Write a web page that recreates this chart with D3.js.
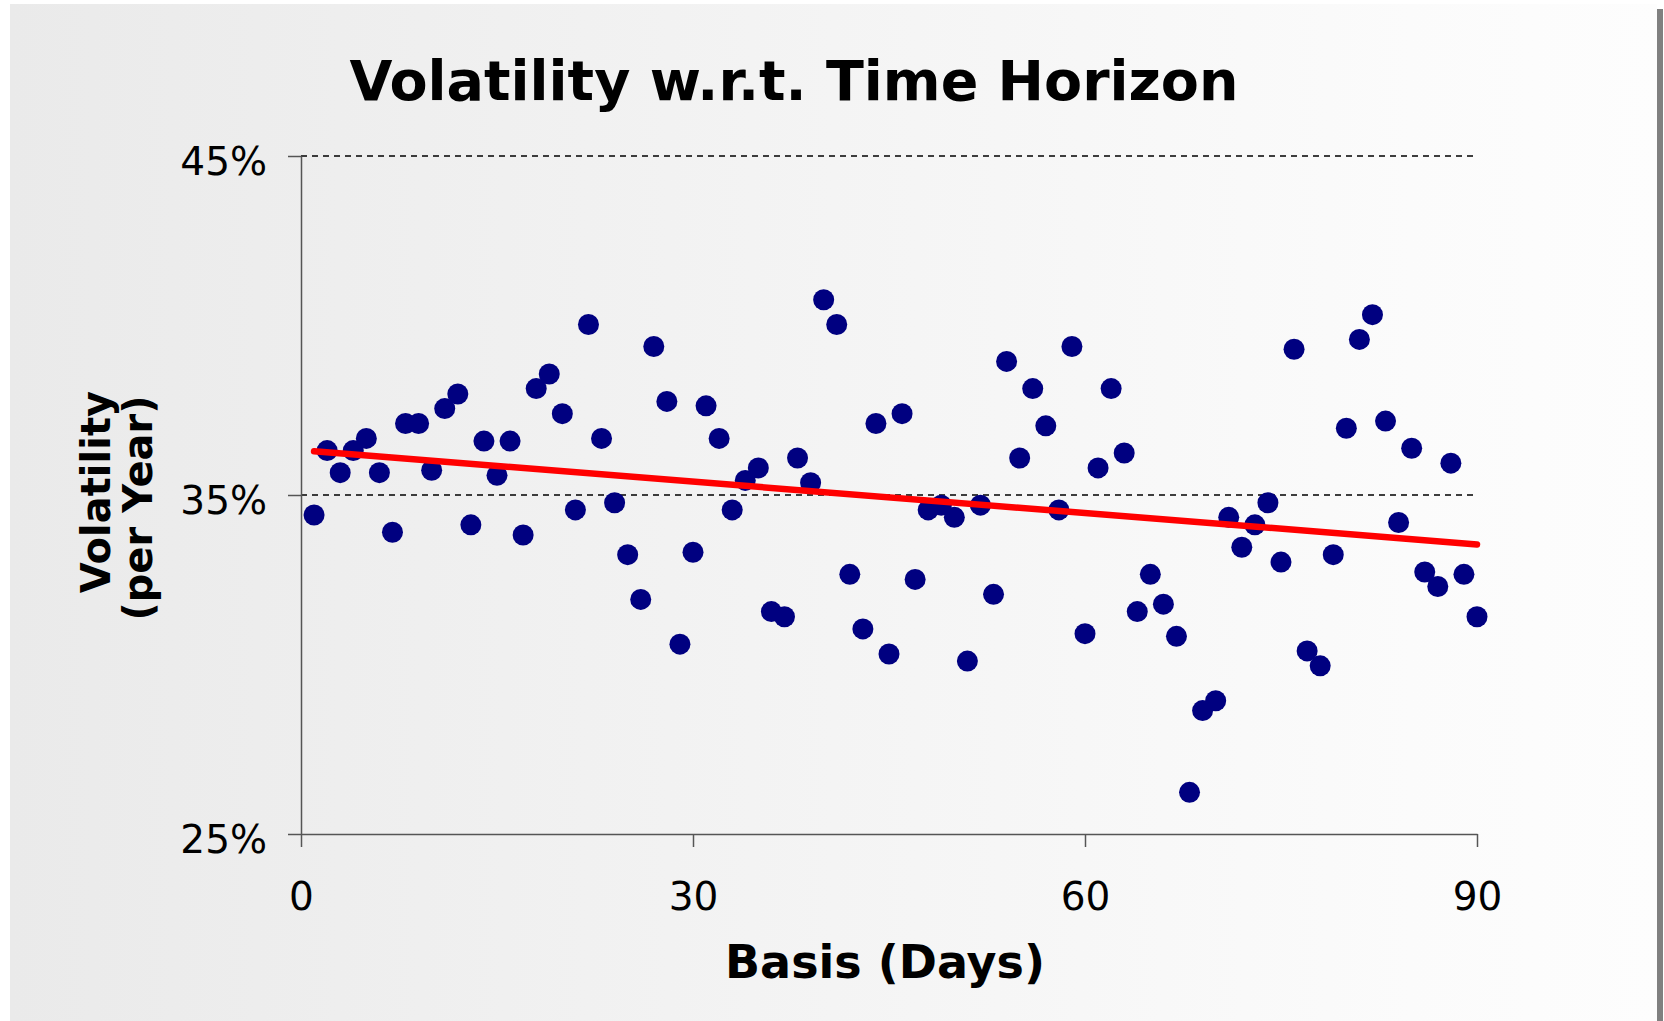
<!DOCTYPE html>
<html>
<head>
<meta charset="utf-8">
<script src="https://cdn.jsdelivr.net/npm/d3@7"></script>
<style>
  body { margin: 0; background: #fff; }
  svg { display: block; }
  .axis path, .axis line { stroke: #555; stroke-width: 1.5px; }
  .axis text { font-family: "DejaVu Sans", Verdana, sans-serif; font-size: 39px; fill: #000; }
  .title { font-family: "DejaVu Sans", Verdana, sans-serif; font-weight: bold; fill: #000; }
</style>
</head>
<body>
<div id="chart"></div>
<script>
// basis in days and the volatility read for each day
var days = d3.range(1, 91);
var vols = [
  34.41, 36.31, 35.66, 36.31, 36.67, 35.66, 33.90, 37.11, 37.11, 35.73,
  37.55, 37.98, 34.12, 36.59, 35.58, 36.59, 33.82, 38.14, 38.57, 37.40,
  34.56, 40.03, 36.67, 34.77, 33.24, 31.92, 39.38, 37.76, 30.60, 33.31,
  37.63, 36.67, 34.56, 35.43, 35.80, 31.56, 31.41, 36.09, 35.36, 40.76,
  40.03, 32.66, 31.05, 37.11, 30.31, 37.40, 32.51, 34.56, 34.70, 34.34,
  30.10, 34.70, 32.07, 38.94, 36.09, 38.14, 37.04, 34.56, 39.38, 30.91,
  35.80, 38.14, 36.24, 31.56, 32.66, 31.78, 30.83, 26.23, 28.64, 28.93,
  34.34, 33.46, 34.12, 34.77, 33.02, 39.30, 30.40, 29.96, 33.24, 36.97,
  39.59, 40.32, 37.18, 34.19, 36.38, 32.73, 32.30, 35.94, 32.66, 31.41
];
var xTicks = [0, 30, 60, 90];
var yTicks = [25, 35, 45];
var gridTicks = [35, 45];

var margin = {top: 156, right: 187, bottom: 187, left: 301},
    fullwidth = 1664,
    fullheight = 1021,
    width = fullwidth - margin.left - margin.right,
    height = fullheight - margin.top - margin.bottom;

var dataset = days.map(function(d, i) { return {day: d, vol: vols[i]}; });

var root = d3.select("#chart")
    .append("svg")
    .attr("width", fullwidth)
    .attr("height", fullheight);

var grad = root.append("defs").append("linearGradient")
    .attr("id", "bg")
    .attr("x1", "0%").attr("x2", "100%")
    .attr("y1", "0%").attr("y2", "0%");
grad.append("stop").attr("offset", "0%").attr("stop-color", "#eaeaea");
grad.append("stop").attr("offset", "85%").attr("stop-color", "#fbfbfb");
grad.append("stop").attr("offset", "100%").attr("stop-color", "#fdfdfd");

root.append("rect")
    .attr("x", 10).attr("y", 4)
    .attr("width", 1647).attr("height", fullheight - 4)
    .attr("fill", "url(#bg)");

root.append("rect")
    .attr("x", 1657).attr("y", 9)
    .attr("width", 6).attr("height", fullheight - 9)
    .attr("fill", "#808080");

root.append("text")
    .classed("title", true)
    .attr("x", 794).attr("y", 100)
    .style("font-size", "55.5px")
    .style("text-anchor", "middle")
    .text("Volatility w.r.t. Time Horizon");

var svg = root.append("g")
    .attr("transform", "translate(" + margin.left + "," + margin.top + ")");

var xScale = d3.scaleLinear()
    .domain([0, 90])
    .range([0, width]);

var yScale = d3.scaleLinear()
    .domain([25, 45])
    .range([height, 0]);

// dashed gridlines
svg.selectAll("line.grid")
    .data(gridTicks)
    .enter().append("line")
    .classed("grid", true)
    .attr("x1", 0).attr("x2", width)
    .attr("y1", function(d) { return yScale(d); })
    .attr("y2", function(d) { return yScale(d); })
    .style("stroke", "#000")
    .style("stroke-width", 1.3)
    .style("stroke-dasharray", "6,5");

var xAxis = d3.axisBottom(xScale)
    .tickValues(xTicks)
    .tickSize(13)
    .tickSizeOuter(0)
    .tickPadding(35);

var yAxis = d3.axisLeft(yScale)
    .tickValues(yTicks)
    .tickSize(13)
    .tickSizeOuter(0)
    .tickPadding(21)
    .tickFormat(function(d) { return d + "%"; });

svg.append("g")
    .classed("x axis", true)
    .attr("transform", "translate(0," + height + ")")
    .call(xAxis);

var yAxisEle = svg.append("g")
    .classed("y axis", true)
    .call(yAxis);
yAxisEle.selectAll("text").attr("dy", "0.47em");

root.append("text")
    .classed("title", true)
    .attr("x", 885).attr("y", 978)
    .style("font-size", "46px")
    .style("text-anchor", "middle")
    .text("Basis (Days)");

root.append("text")
    .classed("title", true)
    .attr("transform", "translate(110,492)rotate(-90)")
    .style("font-size", "40px")
    .style("text-anchor", "middle")
    .text("Volatility");

root.append("text")
    .classed("title", true)
    .attr("transform", "translate(152,508)rotate(-90)")
    .style("font-size", "40px")
    .style("text-anchor", "middle")
    .text("(per Year)");

svg.append("g")
    .classed("dots", true)
    .selectAll("circle")
    .data(dataset)
    .enter().append("circle")
    .attr("cx", function(d) { return xScale(d.day); })
    .attr("cy", function(d) { return yScale(d.vol); })
    .attr("r", 10.5)
    .attr("fill", "#000080");

// linear trendline (least squares over the points)
var mx = d3.mean(dataset, function(d) { return d.day; }),
    my = d3.mean(dataset, function(d) { return d.vol; });
var slope = d3.sum(dataset, function(d) { return (d.day - mx) * (d.vol - my); }) /
            d3.sum(dataset, function(d) { return (d.day - mx) * (d.day - mx); });
var icpt = my - slope * mx;
var ends = [days[0], days[days.length - 1]];

svg.append("path")
    .datum(ends)
    .attr("d", d3.line()
        .x(function(d) { return xScale(d); })
        .y(function(d) { return yScale(icpt + slope * d); }))
    .style("fill", "none")
    .style("stroke", "#ff0000")
    .style("stroke-width", 6.5)
    .style("stroke-linecap", "round");
</script>
</body>
</html>
